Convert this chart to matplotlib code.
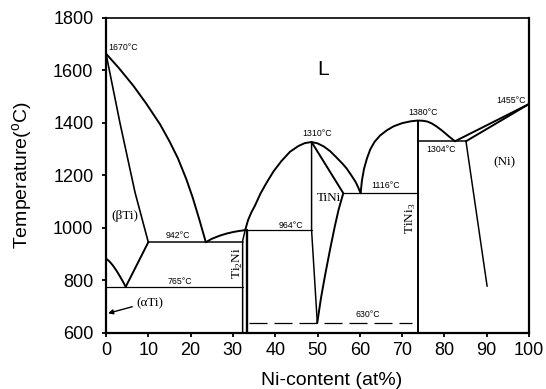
import matplotlib
matplotlib.use("Agg")
import matplotlib.pyplot as plt

plt.rcParams['font.family'] = ['Liberation Sans', 'DejaVu Sans']
plt.rcParams['lines.scale_dashes'] = False
plt.rcParams['mathtext.fontset'] = 'custom'
plt.rcParams['mathtext.rm'] = 'Liberation Serif'
plt.rcParams['mathtext.sf'] = 'Liberation Sans'

# ---------------- data (at% Ni, temperature degC) ----------------
liq_ti_x = [0, 3, 6.45, 9.5, 12.8, 15, 17, 19, 20.5, 22, 23.6]
liq_ti_t = [1664, 1610, 1542, 1474, 1394, 1330, 1265, 1185, 1115, 1035, 945]

beta_solvus_x = [0, 3.3, 6.86, 10.0]
beta_solvus_t = [1664, 1400, 1135, 945]

transus_x = [0, 0.8, 1.6, 2.5, 3.4, 4.1, 4.66]
transus_t = [883, 872, 857, 836, 812, 792, 775]

eutectoid_x = [4.66, 10.0]
eutectoid_t = [775, 945]

iso942_x = [10.0, 32.3]
iso942_t = [945, 945]
iso765_x = [0, 32.3]
iso765_t = [775, 775]

liq_peri_x = [23.6, 25.0, 26.9, 28.5, 30.1, 31.5, 32.9]
liq_peri_t = [945, 958, 970, 978, 984, 988, 991]

ti2ni_left_x = [32.3, 32.3, 32.9]
ti2ni_left_t = [600, 950, 991]
ti2ni_right_x = [33.25, 33.25]
ti2ni_right_t = [600, 991]

iso964_x = [33.25, 48.6]
iso964_t = [991, 991]

liq_tini_x = [32.9, 33.6, 34.4, 35.2, 36.5, 38.0, 39.6, 41.5, 43.5, 45.5, 47.0, 48.6,
              50.0, 51.5, 53.0, 54.5, 56.0, 56.9, 58.0, 59.0, 59.6, 60.2]
liq_tini_t = [991, 1030, 1060, 1084, 1130, 1173, 1215, 1255, 1290, 1312, 1323, 1327,
              1322, 1310, 1292, 1268, 1243, 1226, 1200, 1175, 1155, 1132]

tini_left_x = [48.6, 48.6, 49.95]
tini_left_t = [1327, 991, 638]
tini_right_x = [48.6, 56.1, 55.0, 54.1, 53.0, 51.8, 50.8, 49.95]
tini_right_t = [1327, 1132, 1070, 1006, 920, 820, 730, 638]

iso1116_x = [56.1, 73.7]
iso1116_t = [1132, 1132]

liq_tini3_x = [60.2, 60.5, 61.0, 61.7, 62.5, 63.5, 64.8, 66.4, 68.0, 70.0, 72.0, 73.7,
               75.0, 76.0, 77.0, 78.1, 79.5, 81.1, 82.5]
liq_tini3_t = [1132, 1180, 1225, 1265, 1300, 1328, 1352, 1372, 1387, 1399, 1406, 1409,
               1408, 1405, 1398, 1387, 1370, 1348, 1330]

tini3_x = [73.7, 73.7]
tini3_t = [600, 1409]

iso1304_x = [73.7, 85.1]
iso1304_t = [1330, 1330]

liq_ni_x = [82.5, 100]
liq_ni_t = [1330, 1472]
sol_ni_x = [85.1, 100]
sol_ni_t = [1330, 1472]
solvus_ni_x = [85.1, 90.1]
solvus_ni_t = [1330, 777]

iso630_x = [33.8, 72.3]
iso630_t = [638, 638]

x_ticks = [0, 10, 20, 30, 40, 50, 60, 70, 80, 90, 100]
y_ticks = [600, 800, 1000, 1200, 1400, 1600, 1800]

# temperature annotations: (text, x, T, ha)
temp_labels = [
    ("1670°C", 0.5, 1688, 'left'),
    ("1310°C", 49.9, 1360, 'center'),
    ("1380°C", 74.9, 1441, 'center'),
    ("1455°C", 99.2, 1484, 'right'),
    ("1304°C", 79.2, 1298, 'center'),
    ("1116°C", 66.0, 1161, 'center'),
    ("964°C", 43.7, 1008, 'center'),
    ("630°C", 61.9, 671, 'center'),
    ("942°C", 17.0, 972, 'center'),
    ("765°C", 17.5, 797, 'center'),
]
# phase labels: (text, x, T, rotation)
phase_labels = [
    ("(βTi)", 4.5, 1046, 0),
    ("(αTi)", 10.4, 713, 0),
    ("TiNi", 52.7, 1115, 0),
    ("(Ni)", 94.3, 1250, 0),
    ("Ti$_2$Ni", 31.1, 865, 90),
    ("TiNi$_3$", 72.1, 1035, 90),
]

# ---------------- figure ----------------
fig = plt.figure(figsize=(5.46, 3.89), dpi=100)
ax = fig.add_axes([106/546, 1-332.7/389, 423/546, 314.7/389])

thick = 1.4
thin = 0.9
k = 'black'

for xs, ts, lw in [
    (liq_ti_x, liq_ti_t, thick),
    (beta_solvus_x, beta_solvus_t, thick * 0.85),
    (transus_x, transus_t, thick),
    (eutectoid_x, eutectoid_t, thick),
    (iso942_x, iso942_t, thin * 1.2),
    (iso765_x, iso765_t, thin),
    (liq_peri_x, liq_peri_t, thick),
    (ti2ni_left_x, ti2ni_left_t, thin * 1.2),
    (ti2ni_right_x, ti2ni_right_t, thick * 1.2),
    (iso964_x, iso964_t, thin),
    (liq_tini_x, liq_tini_t, thick),
    (tini_left_x, tini_left_t, thin * 1.2),
    (tini_right_x, tini_right_t, thick),
    (iso1116_x, iso1116_t, thin),
    (liq_tini3_x, liq_tini3_t, thick),
    (tini3_x, tini3_t, thick),
    (iso1304_x, iso1304_t, thin * 1.2),
    (liq_ni_x, liq_ni_t, thick),
    (sol_ni_x, sol_ni_t, thick),
    (solvus_ni_x, solvus_ni_t, thin * 1.2),
]:
    ax.plot(xs, ts, color=k, lw=lw, solid_joinstyle='round', solid_capstyle='round', clip_on=False)

ax.plot(iso630_x, iso630_t, color=k, lw=thin, dashes=[13, 5])

for txt, x, t, ha in temp_labels:
    ax.text(x, t, txt, fontsize=6.3, ha=ha, va='center', family='Liberation Sans')

for txt, x, t, rot in phase_labels:
    ax.text(x, t, txt, fontsize=9.5, ha='center', va='center', rotation=rot,
            family='Liberation Serif')

ax.text(51.4, 1602, "L", fontsize=15, ha='center', va='center', family='Liberation Sans')

ax.annotate('', xy=(0.5, 674), xytext=(6.2, 699),
            arrowprops=dict(arrowstyle='-|>', color=k, lw=1.0, mutation_scale=7,
                            shrinkA=0, shrinkB=0))

ax.set_xlim(0, 100)
ax.set_ylim(600, 1800)
ax.set_xticks(x_ticks)
ax.set_yticks(y_ticks)
ax.tick_params(direction='out', length=3, width=1.3, labelsize=13, pad=4)
ax.tick_params(axis='y', pad=6)
for s in ['left', 'bottom', 'right']:
    ax.spines[s].set_linewidth(1.6)
ax.spines['top'].set_linewidth(1.2)

ax.set_xlabel("Ni-content (at%)", fontsize=14, labelpad=3)
ax.xaxis.set_label_coords((332 - 106) / 423, -0.125)
ax.set_ylabel("Temperature($^{\\mathsf{o}}$C)", fontsize=14)
ax.yaxis.set_label_coords(-0.168, 0.5)

fig.savefig("out.png", dpi=100)
